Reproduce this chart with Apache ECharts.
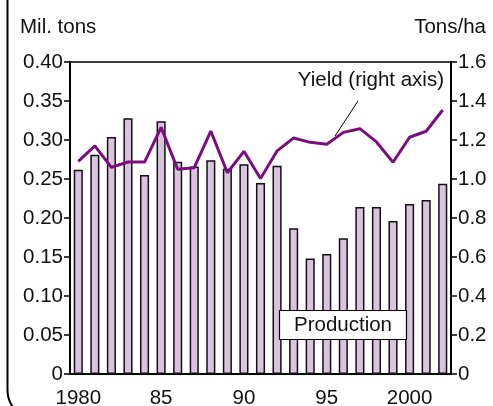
<!DOCTYPE html>
<html>
<head>
<meta charset="utf-8">
<script src="https://cdn.jsdelivr.net/npm/echarts@6/dist/echarts.min.js"></script>
<style>
  html, body { margin: 0; padding: 0; background: #fff; }
  #chart { width: 493px; height: 406px; }
</style>
</head>
<body>
<div id="chart"></div>
<script>
// years 1980 - 2002
var years = ['1980','1981','1982','1983','1984','1985','1986','1987','1988','1989','1990',
             '1991','1992','1993','1994','1995','1996','1997','1998','1999','2000','2001','2002'];
// production, mil. tons (left axis)
var production = [0.262, 0.281, 0.304, 0.328, 0.255, 0.324, 0.272, 0.266, 0.274, 0.263, 0.269,
                  0.245, 0.267, 0.187, 0.148, 0.154, 0.174, 0.214, 0.214, 0.196, 0.218, 0.223, 0.244];
// yield, tons/ha (right axis)
var yieldVals = [1.09, 1.17, 1.06, 1.087, 1.087, 1.265, 1.05, 1.058, 1.246, 1.032, 1.142,
                 1.003, 1.144, 1.21, 1.188, 1.178, 1.239, 1.258, 1.19, 1.086, 1.214, 1.245, 1.354];
var leftTicks = { min: 0, max: 0.4, step: 0.05 };
var rightTicks = { min: 0, max: 1.6, step: 0.2 };

var font = '"Liberation Sans", Arial, sans-serif';
var fs = 20.5;

var chart = echarts.init(document.getElementById('chart'), null, { renderer: 'canvas' });

var option = {
  animation: false,
  backgroundColor: '#fff',
  grid: {
    left: 70, right: 42, top: 62, bottom: 32,
    outerBoundsMode: 'none', containLabel: false,
    show: true, borderColor: '#000', borderWidth: 1.5, backgroundColor: 'transparent'
  },
  xAxis: {
    type: 'category',
    data: years,
    boundaryGap: true,
    axisLine: { lineStyle: { color: '#000', width: 2 } },
    axisTick: { alignWithLabel: true, length: 10, lineStyle: { color: '#555', width: 1.5 } },
    axisLabel: {
      interval: 0, margin: 14, color: '#111', fontSize: fs, fontFamily: font,
      formatter: function (v) {
        var y = +v;
        if (y % 5 !== 0) return '';
        if (y === 1980 || y === 2000) return v;
        return v.slice(2);
      }
    },
    splitLine: { show: false }
  },
  yAxis: [
    {
      type: 'value', min: leftTicks.min, max: leftTicks.max, interval: leftTicks.step,
      position: 'left',
      axisLine: { show: true, lineStyle: { color: '#000', width: 2 } },
      axisTick: { show: true, length: 6, lineStyle: { color: '#000', width: 1.5 } },
      axisLabel: {
        margin: 7, color: '#111', fontSize: fs, fontFamily: font,
        formatter: function (v) { return v === 0 ? '0' : v.toFixed(2); }
      },
      splitLine: { show: false }
    },
    {
      type: 'value', min: rightTicks.min, max: rightTicks.max, interval: rightTicks.step,
      position: 'right',
      axisLine: { show: true, lineStyle: { color: '#000', width: 2 } },
      axisTick: { show: true, length: 6, lineStyle: { color: '#000', width: 1.5 } },
      axisLabel: {
        margin: 7, color: '#111', fontSize: fs, fontFamily: font,
        formatter: function (v) { return v === 0 ? '0' : v.toFixed(1); }
      },
      splitLine: { show: false }
    }
  ],
  series: [
    {
      name: 'Production',
      type: 'bar',
      yAxisIndex: 0,
      barWidth: '55%',
      data: production,
      itemStyle: { color: '#D9C4DE', borderColor: '#111', borderWidth: 1.5 }
    },
    {
      name: 'Yield',
      type: 'line',
      yAxisIndex: 1,
      data: yieldVals,
      symbol: 'none',
      lineStyle: { color: '#7B0E7F', width: 3 },
      z: 5
    }
  ],
  graphic: [
    // frame, left side with rounded bottom corner
    {
      type: 'rect', silent: true, z: 100,
      shape: { x: 7.5, y: -60, width: 520, height: 480, r: 30 },
      style: { fill: 'none', stroke: '#000', lineWidth: 2 }
    },
    {
      type: 'text', z: 100, x: 20, y: 27,
      style: { text: 'Mil. tons', font: fs + 'px ' + font, fill: '#111',
               textVerticalAlign: 'middle' }
    },
    {
      type: 'text', z: 100, x: 486, y: 27,
      style: { text: 'Tons/ha', font: fs + 'px ' + font, fill: '#111',
               textAlign: 'right', textVerticalAlign: 'middle' }
    },
    {
      type: 'text', z: 100,
      x: 444, y: 80,
      style: { text: 'Yield (right axis)', font: fs + 'px ' + font, fill: '#111',
               textAlign: 'right', textVerticalAlign: 'middle' }
    },
    {
      type: 'line', z: 100, silent: true,
      shape: { x1: 358, y1: 101, x2: 335, y2: 136 },
      style: { stroke: '#000', lineWidth: 1 }
    },
    {
      type: 'rect', z: 100, silent: true,
      shape: { x: 279.5, y: 310.5, width: 127, height: 29 },
      style: { fill: '#fff', stroke: '#000', lineWidth: 1.2 }
    },
    {
      type: 'text', z: 101,
      x: 343, y: 325,
      style: { text: 'Production', font: fs + 'px ' + font, fill: '#111',
               textAlign: 'center', textVerticalAlign: 'middle' }
    }
  ]
};

chart.setOption(option);
</script>
</body>
</html>
